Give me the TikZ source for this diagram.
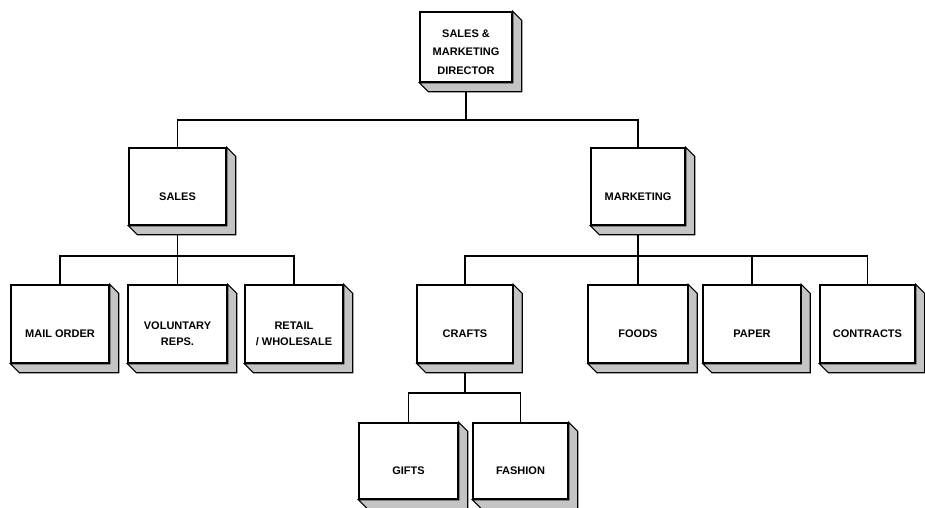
\documentclass[tikz,border=0pt]{standalone}
\usepackage{fontspec}
\setmainfont{Liberation Sans}
\usetikzlibrary{patterns.meta}
\tikzset{
  unit/.style={draw, line width=1.4pt, fill=white, minimum width=97pt, minimum height=77pt, inner sep=0pt},
  lbl/.style={font=\fontsize{11}{16}\selectfont\bfseries, align=center, inner sep=0pt},
  link/.style={line width=1.4pt},
  shade/.style={draw, line width=1.1pt, line join=miter, pattern={Dots[distance=2pt, radius=0.65pt]}, pattern color=black}
}
\newcommand{\sidewall}[1]{%
  \filldraw[white] (#1.north east) -- ++(9,9) -- ([shift={(9,9)}]#1.south east) -- ([shift={(9,9)}]#1.south west) -- (#1.south west) -- (#1.south east) -- cycle;
  \draw[shade] (#1.north east) -- ++(9,9) -- ([shift={(9,9)}]#1.south east) -- ([shift={(9,9)}]#1.south west) -- (#1.south west) -- (#1.south east) -- cycle;
  \draw[line width=1.4pt] (#1.north west) rectangle (#1.south east);
}
\begin{document}
\begin{tikzpicture}[x=1pt, y=-1pt]
\useasboundingbox (0,0) rectangle (925,507);
% junction coordinates
\coordinate (j0) at (466,120);
\coordinate (j1) at (177.5,256);
\coordinate (j2) at (638,256);
\coordinate (j3) at (465,393);
% connectors first
\coordinate (dirS) at (466,82);
\draw[link] (dirS) -- (j0);
\draw[link] (j0) -| (177.5,148);
\draw[link] (j0) -| (638,148);
\draw[link] (177.5,225) -- (j1);
\draw[link] (j1) -| (60,285);
\draw[link] (j1) -- (177.5,285);
\draw[link] (j1) -| (294,285);
\draw[link] (638,225) -- (j2);
\draw[link] (j2) -| (465,285);
\draw[link] (j2) -- (638,285);
\draw[link] (j2) -| (752,285);
\draw[link] (j2) -| (867.5,285);
\draw[link] (465,363) -- (j3);
\draw[link] (j3) -| (408.5,423);
\draw[link] (j3) -| (520.5,423);
% nodes
\node[unit, minimum width=92pt, minimum height=70pt] (dir) at (466,47) {};
\node[unit] (sales) at (177.5,186.5) {};
\node[unit, minimum width=94pt] (mkt) at (638,186.5) {};
\node[unit, minimum width=98pt, minimum height=78pt] (mail) at (60,324) {};
\node[unit, minimum width=99pt, minimum height=78pt] (vol) at (177.5,324) {};
\node[unit, minimum width=98pt, minimum height=78pt] (ret) at (294,324) {};
\node[unit, minimum width=95pt, minimum height=78pt] (crafts) at (465,324) {};
\node[unit, minimum width=99pt, minimum height=78pt] (foods) at (638,324) {};
\node[unit, minimum height=78pt] (paper) at (752,324) {};
\node[unit, minimum width=95pt, minimum height=78pt] (contr) at (867.5,324) {};
\node[unit, minimum width=99pt, minimum height=76pt] (gifts) at (408.5,461) {};
\node[unit, minimum width=95pt, minimum height=76pt] (fash) at (520.5,461) {};
\foreach \b in {dir,sales,mkt,mail,vol,ret,crafts,foods,paper,contr,gifts,fash}{\sidewall{\b}}
% labels
\node[lbl, font=\fontsize{11}{18.5}\selectfont\bfseries] (tdir) at ([yshift=-5pt]dir.center) {SALES \&\\MARKETING\\DIRECTOR};
\node[lbl] (tsales) at ([yshift=-10pt]sales.center) {SALES};
\node[lbl] (tmkt) at ([yshift=-10pt]mkt.center) {MARKETING};
\node[lbl] (tmail) at ([yshift=-10pt]mail.center) {MAIL ORDER};
\node[lbl] (tvol) at ([yshift=-10pt]vol.center) {VOLUNTARY\\REPS.};
\node[lbl] (tret) at ([yshift=-10pt]ret.center) {RETAIL\\/ WHOLESALE};
\node[lbl] (tcrafts) at ([yshift=-10pt]crafts.center) {CRAFTS};
\node[lbl] (tfoods) at ([yshift=-10pt]foods.center) {FOODS};
\node[lbl] (tpaper) at ([yshift=-10pt]paper.center) {PAPER};
\node[lbl] (tcontr) at ([yshift=-10pt]contr.center) {CONTRACTS};
\node[lbl] (tgifts) at ([yshift=-10pt]gifts.center) {GIFTS};
\node[lbl] (tfash) at ([yshift=-10pt]fash.center) {FASHION};
\end{tikzpicture}
\end{document}
